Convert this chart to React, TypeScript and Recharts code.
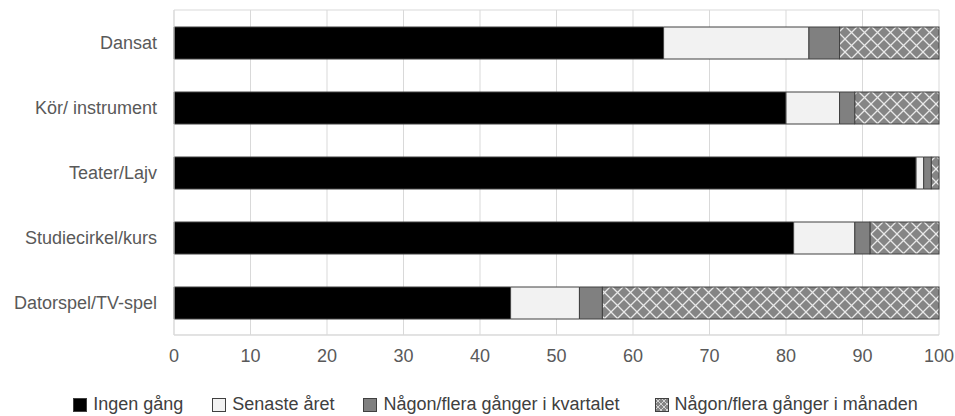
import { BarChart, Bar, XAxis, YAxis, CartesianGrid, Legend } from "recharts";

const categories = ["Dansat", "Kör/ instrument", "Teater/Lajv", "Studiecirkel/kurs", "Datorspel/TV-spel"];
const ingenGang = [64, 80, 97, 81, 44];
const senasteAret = [19, 7, 1, 8, 9];
const kvartalet = [4, 2, 1, 2, 3];
const manaden = [13, 11, 1, 9, 44];
const xTicks = [0, 10, 20, 30, 40, 50, 60, 70, 80, 90, 100];

const series = [
  { key: "ingen", name: "Ingen gång", fill: "#000000" },
  { key: "senaste", name: "Senaste året", fill: "#f2f2f2" },
  { key: "kvartal", name: "Någon/flera gånger i kvartalet", fill: "#808080" },
  { key: "manad", name: "Någon/flera gånger i månaden", fill: "hatch" },
];

const data = categories.map((c, i) => ({
  cat: c,
  ingen: ingenGang[i],
  senaste: senasteAret[i],
  kvartal: kvartalet[i],
  manad: manaden[i],
}));

const font = "Liberation Sans, Arial, sans-serif";
const legendGaps = [0, 29, 29, 35];

// crosshatch pattern defined inline so it doesn't need chart-level <defs>
function Hatch({ id, size }: { id: string; size: number }) {
  return (
    <defs>
      <pattern id={id} width={size} height={size} patternUnits="userSpaceOnUse">
        <rect width={size} height={size} fill="#858585" />
        <path d={`M0,0 L${size},${size} M${size},0 L0,${size}`} stroke="#e8e8e8" strokeWidth={size > 8 ? 1.3 : 0.8} />
      </pattern>
    </defs>
  );
}

function HatchBar(props: any) {
  const { x, y, width, height, index } = props;
  if (!width || width <= 0) return null;
  const id = "hatch" + index;
  return (
    <g>
      <Hatch id={id} size={13} />
      <rect x={x} y={y} width={width} height={height} fill={`url(#${id})`} stroke="#404040" strokeWidth={1} />
    </g>
  );
}

function LegendBox() {
  return (
    <div style={{ display: "flex", justifyContent: "center", paddingTop: 10, paddingLeft: 36,
      fontFamily: font, fontSize: 18, color: "#404040" }}>
      {series.map((s, i) => (
        <div key={s.key} style={{ display: "flex", alignItems: "center", marginLeft: legendGaps[i] }}>
          <svg width={14} height={14} style={{ marginRight: 6 }}>
            {s.fill === "hatch" && <Hatch id="hatchLeg" size={6} />}
            <rect x={0.5} y={0.5} width={13} height={13} fill={s.fill === "hatch" ? "url(#hatchLeg)" : s.fill}
              stroke="#404040" strokeWidth={1} />
          </svg>
          <span>{s.name}</span>
        </div>
      ))}
    </div>
  );
}

export default function App() {
  return (
    <div style={{ position: "absolute", left: 0, top: 0, background: "#fff" }}>
      <BarChart width={955} height={416} data={data} layout="vertical" barSize={32}
        margin={{ top: 10, right: 16, left: 0, bottom: 0 }}>
        <CartesianGrid stroke="#d9d9d9"
          horizontalCoordinatesGenerator={({ offset }: any) => [offset.top, offset.top + offset.height]} />
        <XAxis type="number" domain={[0, 100]} ticks={xTicks} height={49} tickSize={0} tickMargin={14}
          axisLine={{ stroke: "#d9d9d9" }} tick={{ fill: "#595959", fontSize: 18, fontFamily: font }} />
        <YAxis type="category" dataKey="cat" width={174} tickSize={0} tickMargin={17}
          axisLine={{ stroke: "#d9d9d9" }} tick={{ fill: "#595959", fontSize: 18, fontFamily: font }} />
        <Legend verticalAlign="bottom" height={32} wrapperStyle={{ left: 0, width: 955 }} content={() => <LegendBox />} />
        <Bar dataKey="ingen" stackId="a" fill="#000000" stroke="#404040" strokeWidth={1} isAnimationActive={false} />
        <Bar dataKey="senaste" stackId="a" fill="#f2f2f2" stroke="#404040" strokeWidth={1} isAnimationActive={false} />
        <Bar dataKey="kvartal" stackId="a" fill="#808080" stroke="#404040" strokeWidth={1} isAnimationActive={false} />
        <Bar dataKey="manad" stackId="a" fill="#858585" shape={HatchBar} isAnimationActive={false} />
      </BarChart>
    </div>
  );
}
